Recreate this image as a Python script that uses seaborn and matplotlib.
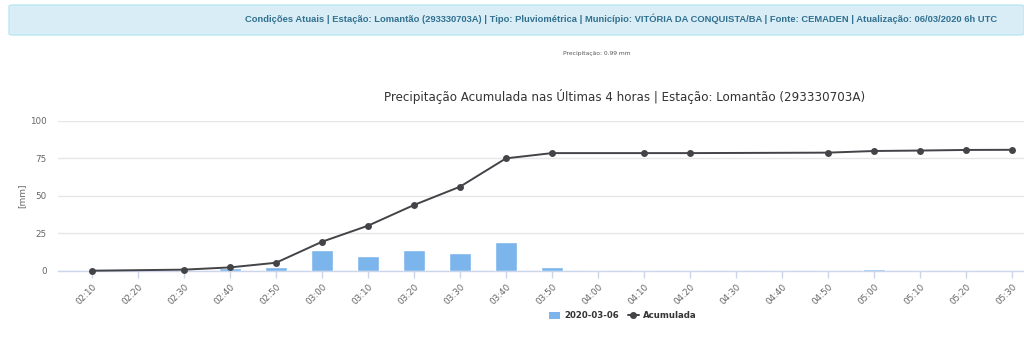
import matplotlib
matplotlib.use("Agg")
import matplotlib.pyplot as plt
import seaborn as sns
import pandas as pd
from matplotlib.patches import Patch, FancyBboxPatch
from matplotlib.lines import Line2D

# ---- data ----
times = ["02:10", "02:20", "02:30", "02:40", "02:50", "03:00", "03:10", "03:20",
         "03:30", "03:40", "03:50", "04:00", "04:10", "04:20", "04:30", "04:40",
         "04:50", "05:00", "05:10", "05:20", "05:30"]
precip = [0, 0, 0, 1.5, 2.7, 13.8, 10.0, 13.8, 11.6, 19.0, 2.7, 0, 0, 0, 0, 0,
          0, 0.9, 0, 0, 0]
acc_times = ["02:10", "02:30", "02:40", "02:50", "03:00", "03:10", "03:20", "03:30",
             "03:40", "03:50", "04:10", "04:20", "04:50", "05:00", "05:10", "05:20", "05:30"]
acumulada = [0, 0.7, 2.2, 5.3, 19.3, 30.0, 43.8, 56.0, 74.9, 78.4, 78.4, 78.4,
             78.7, 79.8, 80.1, 80.5, 80.6]
yticks = [0, 25, 50, 75, 100]

sns.set_theme(style="white")
plt.rcParams['font.family'] = ['DejaVu Sans']

fig = plt.figure(figsize=(10.24, 3.43), dpi=100)
W, H = 1024, 343
ax = fig.add_axes([58 / W, (H - 270.7) / H, (W - 58) / W, 150 / H])

df_bar = pd.DataFrame({"time": times, "precip": precip})
sns.barplot(data=df_bar, x="time", y="precip", order=times, color="#7cb5ec",
            saturation=1, width=0.48, ax=ax, zorder=2)

df_line = pd.DataFrame({"pos": [times.index(t) for t in acc_times], "acc": acumulada})
sns.lineplot(data=df_line, x="pos", y="acc", color="#434348", linewidth=1.4,
             marker="o", markersize=5, markeredgewidth=0, ax=ax, zorder=3)
for l in ax.lines:
    l.set_clip_on(False)

ax.set_xlim(-34 / 46, 20 + 12 / 46)
ax.set_ylim(0, 100)
ax.set_yticks(yticks)
ax.set_yticklabels([str(v) for v in yticks])
ax.set_xticks(range(len(times)))
ax.set_xticklabels(times, rotation=45, ha="right", rotation_mode="anchor")
ax.tick_params(axis="x", length=5, width=1, color="#ccd6eb", labelsize=6.3,
               labelcolor="#666666", pad=3, bottom=True)
ax.tick_params(axis="y", length=0, labelsize=6.3, labelcolor="#666666", pad=8)
ax.grid(axis="y", color="#e6e6e6", linewidth=1)
ax.set_axisbelow(True)
for s in ["top", "right", "left"]:
    ax.spines[s].set_visible(False)
ax.spines["bottom"].set_color("#ccd6eb")
ax.spines["bottom"].set_linewidth(1)
ax.spines["bottom"].set_zorder(1)
ax.set_xlabel("")
ax.set_ylabel("[mm]", fontsize=6.5, color="#666666")
ax.yaxis.set_label_coords(-(58 - 26) / (W - 58), 0.5)

# legend
handles = [Patch(facecolor="#7cb5ec", edgecolor="none"),
           Line2D([0], [0], color="#434348", lw=1.4, marker="o", markersize=4)]
leg = fig.legend(handles, ["2020-03-06", "Acumulada"], loc="center",
                 bbox_to_anchor=(623 / W, 1 - 316 / H), ncol=2, frameon=False,
                 prop={"weight": "bold", "size": 6.2}, handlelength=1.2,
                 handleheight=0.9, columnspacing=1.1, handletextpad=0.5)
for t in leg.get_texts():
    t.set_color("#333333")

# title
fig.text(625 / W, 1 - 97 / H,
         "Precipitação Acumulada nas Últimas 4 horas | Estação: Lomantão (293330703A)",
         ha="center", va="center", fontsize=8.6, color="#333333")

# small subtitle
fig.text(563 / W, 1 - 53 / H, "Precipitação: 0.99 mm", ha="left", va="center",
         fontsize=4.3, color="#555555")

# banner
banner = FancyBboxPatch((9 / W, 1 - 35 / H), (W - 9) / W, 30 / H,
                        boxstyle="round,pad=0,rounding_size=0.004",
                        transform=fig.transFigure, facecolor="#d9edf7",
                        edgecolor="#bce8f1", linewidth=1, zorder=0)
fig.patches.append(banner)
fig.text(997 / W, 1 - 18.5 / H,
         "Condições Atuais | Estação: Lomantão (293330703A) | Tipo: Pluviométrica | "
         "Município: VITÓRIA DA CONQUISTA/BA | Fonte: CEMADEN | Atualização: 06/03/2020 6h UTC",
         ha="right", va="center", fontsize=6.75, fontweight="bold", color="#31708f",
         family=["Liberation Sans", "DejaVu Sans"])

fig.savefig("out.png", dpi=100)
